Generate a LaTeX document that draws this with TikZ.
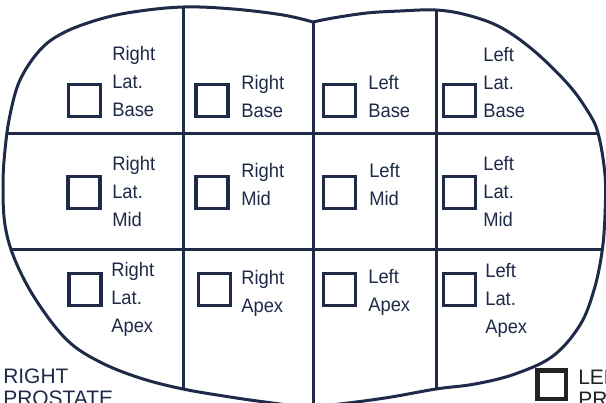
\documentclass[tikz,border=0pt]{standalone}
\usepackage{fontspec}
\setmainfont{Liberation Sans}
\newfontfamily\zonefont[FakeStretch=0.94]{Liberation Sans}
\definecolor{zonenavy}{HTML}{1E2A48}
\definecolor{sideblack}{HTML}{222222}
\usetikzlibrary{positioning}

% outline of the gland, in pixel units
\newcommand{\glandoutline}{plot[smooth, tension=0.6] coordinates {
    (313,22) (333,18) (367,13) (400,11) (436,10) (467,15) (500,27) (533,50)
    (567,83) (587,110) (598,133) (605,175) (605,215) (602,252) (594,290)
    (580,325) (553,356) (515,374) (475,384) (436,389) (385,398) (330,405)
    (300,406) (265,402) (230,397) (183,389) (140,378) (100,362) (67,340)
    (36,300) (15,260) (5,225) (3,185) (5,150) (10,115) (20,80) (40,50)
    (63,33) (97,20) (133,12) (183,7) (233,9) (283,15) (313,22)} -- cycle}

\begin{document}
\begin{tikzpicture}[x=0.025cm, y=-0.025cm,
    grd/.style={draw=zonenavy, line width=0.075cm},
    chk/.style={rectangle, draw=zonenavy, line width=0.08cm,
                minimum size=0.8cm, inner sep=0pt},
    lbl/.style={anchor=base west, align=left, inner sep=0pt, text=zonenavy,
                font=\zonefont\fontsize{13.9pt}{19.6pt}\selectfont},
    side/.style={anchor=base west, align=left, inner sep=0pt,
                 font=\fontsize{14.9pt}{15.6pt}\selectfont}
  ]
  \useasboundingbox (0,0) rectangle (606,402);
  \clip (0,0) rectangle (606,402);

  % zone grid
  \begin{scope}
    \clip \glandoutline;
    \draw[grd] (183,0) -- (183,420);
    \draw[grd] (313,0) -- (313,420);
    \draw[grd] (436,0) -- (436,420);
    \draw[grd] (0,133) -- (610,133);
    \draw[grd] (0,249) -- (610,249);
  \end{scope}
  \draw[grd] \glandoutline;

  % base row (label anchors sit on the last line)
  \node[chk] (rlatbase) at (84.5,100.5) {};
  \node[chk] (rbase) at (212,100.5) {};
  \node[chk] (lbase) at (339.5,100.5) {};
  \node[chk] (llatbase) at (459.5,100.5) {};
  \node[lbl] (rlatbase-t) at (112,116) {Right\\Lat.\\Base};
  \node[lbl] (rbase-t) at (241,117) {Right\\Base};
  \node[lbl] (lbase-t) at (368,117) {Left\\Base};
  \node[lbl] (llatbase-t) at (483,117) {Left\\Lat.\\Base};

  % mid row
  \node[chk] (rlatmid) at (84,192.5) {};
  \node[chk] (rmid) at (212,192.5) {};
  \node[chk] (lmid) at (339.5,192.5) {};
  \node[chk] (llatmid) at (459.5,192.5) {};
  \node[lbl] (rlatmid-t) at (112,226) {Right\\Lat.\\Mid};
  \node[lbl] (rmid-t) at (241,205) {Right\\Mid};
  \node[lbl] (lmid-t) at (369,205) {Left\\Mid};
  \node[lbl] (llatmid-t) at (483,226) {Left\\Lat.\\Mid};

  % apex row
  \node[chk] (rlatapex) at (85,289.5) {};
  \node[chk] (rapex) at (214.5,289.5) {};
  \node[chk] (lapex) at (339.5,289.5) {};
  \node[chk] (llatapex) at (459.5,289.5) {};
  \node[lbl] (rlatapex-t) at (111,332) {Right\\Lat.\\Apex};
  \node[lbl] (rapex-t) at (241,312) {Right\\Apex};
  \node[lbl] (lapex-t) at (368,311) {Left\\Apex};
  \node[lbl] (llatapex-t) at (485,333) {Left\\Lat.\\Apex};

  % side labels
  \node[side, text=zonenavy] (rside) at (3,405) {RIGHT\\PROSTATE};
  \node[chk, draw=sideblack, line width=0.11cm, minimum size=0.71cm]
    (lsidebox) at (551.5,384.5) {};
  \node[side, text=sideblack] (lside) at (578,406) {LEFT\\PROSTATE};
\end{tikzpicture}
\end{document}
